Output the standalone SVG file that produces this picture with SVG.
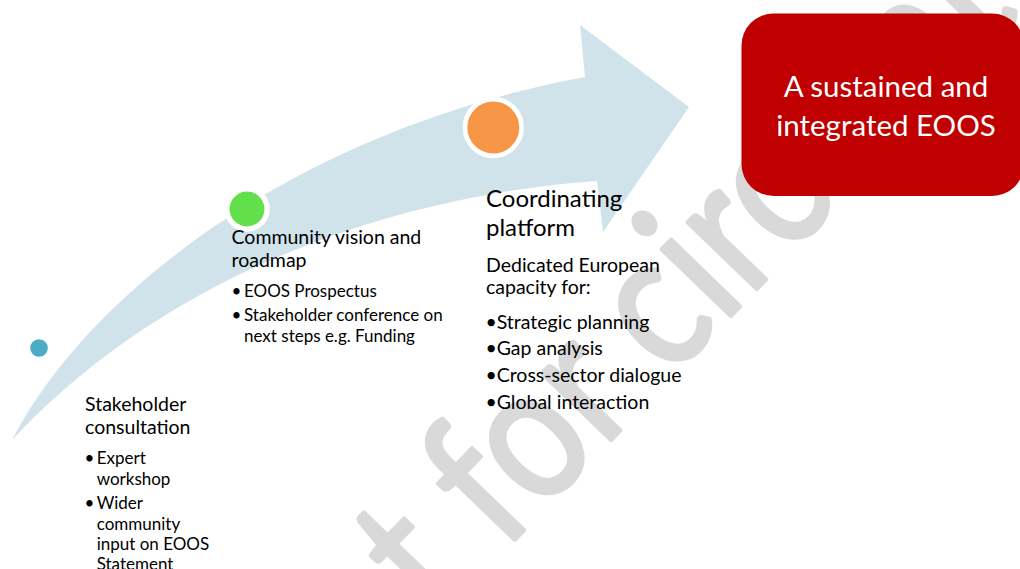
<svg xmlns="http://www.w3.org/2000/svg" width="1020" height="569" viewBox="0 0 1020 569">
  <style>
    .txt { font-family: Lato, "Liberation Sans", sans-serif; fill: #000; }
    .head { font-size: 19.5px; }
    .big { font-size: 24px; }
    .item { font-size: 17px; }
    .ring { stroke: #fff; }
    .goal { font-family: Lato, "Liberation Sans", sans-serif; font-size: 29.5px; fill: #fff; text-anchor: middle; }
    .mark { font-family: Lato, "Liberation Sans", sans-serif; font-size: 190px; fill: #d9d9d9; stroke: #d9d9d9; stroke-width: 4; stroke-linejoin: round; }
  </style>

  <rect width="1020" height="569" fill="#fff"/>

  <!-- watermark, behind the figure -->
  <g id="watermark" transform="translate(503,552) rotate(-46) scale(0.84,1)">
    <text class="mark"><tspan x="0" text-anchor="end">Not </tspan><tspan x="0">for circulation</tspan></text>
  </g>

  <!-- connectors: the curved progress arrow -->
  <g id="connectors">
    <path d="M12,440 C90,290 300,130 585,77 L580,25 L689,107 L603,232 L597,181 C400,195 170,270 12,440 Z" fill="#d0e3eb"/>
  </g>

  <g id="stage1">
    <circle class="ring" cx="39" cy="348" r="8.8" fill="#4bacc6" stroke-width="0"/>
    <text class="txt head" x="85" y="411">Stakeholder</text>
    <text class="txt head" x="85" y="434">consultation</text>
    <text class="txt item" x="84.5" y="464">•</text>
    <text class="txt item" x="96.7" y="464">Expert</text>
    <text class="txt item" x="96.7" y="484.5">workshop</text>
    <text class="txt item" x="84.5" y="509">•</text>
    <text class="txt item" x="96.7" y="509">Wider</text>
    <text class="txt item" x="96.7" y="529.5">community</text>
    <text class="txt item" x="96.7" y="549.5">input on EOOS</text>
    <text class="txt item" x="96.7" y="569.5">Statement</text>
  </g>

  <g id="stage2">
    <circle class="ring" cx="247" cy="209" r="20.1" fill="#62e04b" stroke-width="5.3"/>
    <text class="txt head" x="231.5" y="244.3">Community vision and</text>
    <text class="txt head" x="231.5" y="266.5">roadmap</text>
    <text class="txt item" x="231.5" y="297">•</text>
    <text class="txt item" x="244" y="297">EOOS Prospectus</text>
    <text class="txt item" x="231.5" y="321">•</text>
    <text class="txt item" x="244" y="321">Stakeholder conference on</text>
    <text class="txt item" x="244" y="342">next steps e.g. Funding</text>
  </g>

  <g id="stage3">
    <circle class="ring" cx="493.3" cy="127.5" r="28.3" fill="#f79646" stroke-width="4.7"/>
    <text class="txt big" x="486" y="207">Coordinating</text>
    <text class="txt big" x="486" y="235.5">platform</text>
    <text class="txt head" x="486" y="271.7">Dedicated European</text>
    <text class="txt head" x="486" y="293.5">capacity for:</text>
    <text class="txt head" x="485.5" y="328.5">•</text>
    <text class="txt head" x="496.7" y="328.5">Strategic planning</text>
    <text class="txt head" x="485.5" y="355">•</text>
    <text class="txt head" x="496.7" y="355">Gap analysis</text>
    <text class="txt head" x="485.5" y="382">•</text>
    <text class="txt head" x="496.7" y="382">Cross-sector dialogue</text>
    <text class="txt head" x="485.5" y="408.5">•</text>
    <text class="txt head" x="496.7" y="408.5">Global interaction</text>
  </g>

  <g id="goal">
    <rect x="741.5" y="13.5" width="282.5" height="182.5" rx="32" ry="32" fill="#c00000"/>
    <text class="goal" x="886" y="97">A sustained and</text>
    <text class="goal" x="886" y="135.5">integrated EOOS</text>
  </g>
</svg>
